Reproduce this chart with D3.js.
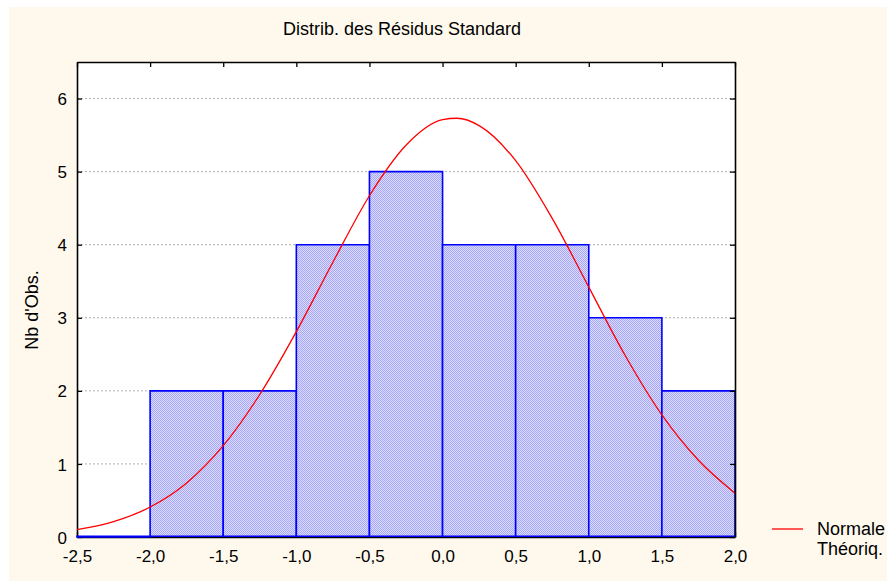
<!DOCTYPE html>
<html>
<head>
<meta charset="utf-8">
<script src="https://cdn.jsdelivr.net/npm/d3@7"></script>
<style>
  html, body { margin: 0; padding: 0; background: #ffffff; }
  svg { display: block; }
  text { font-family: "Liberation Sans", Arial, sans-serif; fill: #000; }
</style>
</head>
<body>
<svg id="chart" width="887" height="581"></svg>
<script>
// Histogram of standardised residuals (bin edges and observed counts)
const binStarts = [-2.5, -2.0, -1.5, -1.0, -0.5, 0.0, 0.5, 1.0, 1.5];
const binWidth = 0.5;
const counts = [0, 2, 2, 4, 5, 4, 4, 3, 2];

// Expected counts of the fitted normal curve
const curveX = [-2.5, -2.25, -2.0, -1.75, -1.5, -1.25, -1.0, -0.75, -0.5, -0.25,
                0.0, 0.1, 0.25, 0.5, 0.75, 1.0, 1.25, 1.5, 1.75, 2.0];
const curveY = [0.10, 0.21, 0.41, 0.74, 1.25, 1.95, 2.81, 3.76, 4.67, 5.36,
                5.71, 5.73, 5.63, 5.15, 4.36, 3.42, 2.48, 1.67, 1.05, 0.60];

const xTicks = [-2.5, -2.0, -1.5, -1.0, -0.5, 0.0, 0.5, 1.0, 1.5, 2.0];
const yTicks = [0, 1, 2, 3, 4, 5, 6];

const title = "Distrib. des Résidus Standard";
const yTitle = "Nb d'Obs.";
const legendLines = ["Normale", "Théoriq."];

const svg = d3.select("#chart");
const W = 887, H = 581;
const plot = { left: 77, right: 735, top: 62, bottom: 537 };

// Page background
svg.append("rect").attr("x", 9).attr("y", 7).attr("width", W - 9).attr("height", H - 7)
  .attr("fill", "#fff9ed");

const x = d3.scaleLinear().domain([-2.5, 2.0]).range([plot.left, plot.right]);
const y = d3.scaleLinear().domain([0, 6.5]).range([plot.bottom, plot.top]);

// Checkered blue fill for bars
const defs = svg.append("defs");
const pat = defs.append("pattern").attr("id", "checker")
  .attr("width", 2).attr("height", 2).attr("patternUnits", "userSpaceOnUse");
pat.append("rect").attr("width", 2).attr("height", 2).attr("fill", "#dcdcff");
pat.append("rect").attr("width", 1).attr("height", 1).attr("fill", "#a6a6f6");
pat.append("rect").attr("x", 1).attr("y", 1).attr("width", 1).attr("height", 1).attr("fill", "#a6a6f6");

// Plot area
svg.append("rect")
  .attr("x", plot.left).attr("y", plot.top)
  .attr("width", plot.right - plot.left).attr("height", plot.bottom - plot.top)
  .attr("fill", "#ffffff");

// Horizontal dotted grid
svg.append("g").selectAll("line").data(yTicks.filter(d => d > 0)).join("line")
  .attr("x1", plot.left).attr("x2", plot.right)
  .attr("y1", d => y(d)).attr("y2", d => y(d))
  .attr("stroke", "#b0b0b0").attr("stroke-width", 1).attr("stroke-dasharray", "2,2");

// Frame with inward ticks on all four sides
const axB = d3.axisBottom(x).tickValues(xTicks).tickSizeInner(-5).tickSizeOuter(0)
  .tickFormat(d => d3.format(".1f")(d).replace(".", ",").replace("−", "-"));
const gB = svg.append("g").attr("transform", `translate(0,${plot.bottom})`).call(axB);
const axT = d3.axisTop(x).tickValues(xTicks).tickSizeInner(-5).tickSizeOuter(0).tickFormat("");
const gT = svg.append("g").attr("transform", `translate(0,${plot.top})`).call(axT);
const axL = d3.axisLeft(y).tickValues(yTicks).tickSizeInner(-5).tickSizeOuter(0).tickFormat(d3.format("d"));
const gL = svg.append("g").attr("transform", `translate(${plot.left},0)`).call(axL);
const axR = d3.axisRight(y).tickValues(yTicks).tickSizeInner(-5).tickSizeOuter(0).tickFormat("");
const gR = svg.append("g").attr("transform", `translate(${plot.right},0)`).call(axR);

[gB, gT, gL, gR].forEach(g => {
  g.select(".domain").attr("stroke", "#000").attr("stroke-width", 1.6);
  g.selectAll(".tick line").attr("stroke", "#000").attr("stroke-width", 1.3);
  g.selectAll("text").attr("font-size", 17).attr("font-family", "Liberation Sans, Arial, sans-serif").attr("fill", "#000");
});
gB.selectAll("text").attr("dy", null).attr("y", 25);
gL.selectAll("text").attr("x", -10).attr("dy", "0.36em");

// Bars as closed outlines, so an empty bin still shows its blue base edge
const barPath = (d, i) => {
  const p = d3.path();
  const x0 = x(d), x1 = x(d + binWidth), yb = y(0) - 0.8, yt = y(counts[i]);
  p.moveTo(x0, yb); p.lineTo(x0, yt); p.lineTo(x1, yt); p.lineTo(x1, yb); p.closePath();
  return p.toString();
};
svg.append("g").selectAll("path").data(binStarts).join("path")
  .attr("d", barPath)
  .attr("fill", "url(#checker)")
  .attr("stroke", "#0000ff").attr("stroke-width", 1.6);

// Normal curve
const line = d3.line().x((d, i) => x(d)).y((d, i) => y(curveY[i])).curve(d3.curveMonotoneX);
svg.append("path").datum(curveX).attr("d", line)
  .attr("fill", "none").attr("stroke", "#ff0000").attr("stroke-width", 1.3);

// Keep right-hand frame and its ticks on top
gR.raise();

// Title
svg.append("text").attr("x", 402).attr("y", 35).attr("text-anchor", "middle")
  .attr("font-size", 18).text(title);

// Y-axis title
svg.append("text").attr("transform", "translate(38,310) rotate(-90)")
  .attr("text-anchor", "middle").attr("font-size", 18).text(yTitle);

// Legend
svg.append("line").attr("x1", 772).attr("x2", 803).attr("y1", 529).attr("y2", 529)
  .attr("stroke", "#ff0000").attr("stroke-width", 1.3);
svg.append("g").selectAll("text").data(legendLines).join("text")
  .attr("x", 817).attr("y", (d, i) => 535 + i * 20)
  .attr("font-size", 18).text(d => d);
</script>
</body>
</html>
